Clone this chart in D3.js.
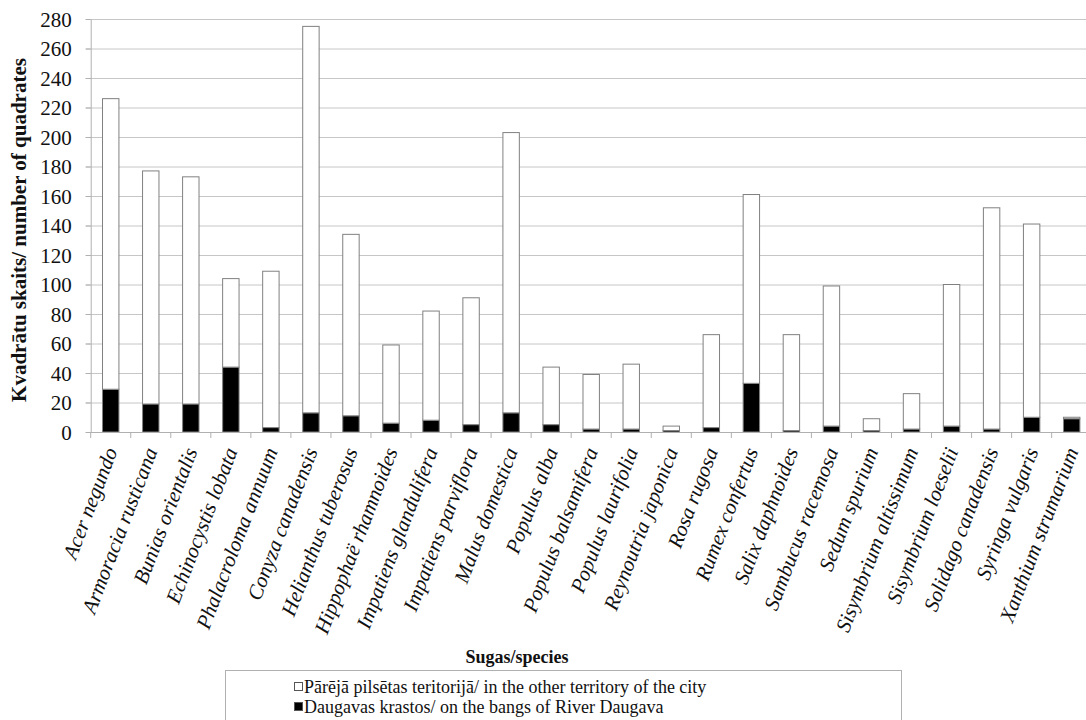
<!DOCTYPE html>
<html>
<head>
<meta charset="utf-8">
<script src="https://cdn.jsdelivr.net/npm/d3@7"></script>
<style>
  svg text { font-family: 'Liberation Serif', 'Times New Roman', serif !important; }
</style>
</head>
<body style="margin:0; background:#fff">
<svg id="chart" width="1086" height="720" style="font-family: 'Liberation Serif', serif"></svg>
<script>
const categories = [
  "Acer negundo", "Armoracia rusticana", "Bunias orientalis", "Echinocystis lobata",
  "Phalacroloma annuum", "Conyza canadensis", "Helianthus tuberosus", "Hippophaë rhamnoides",
  "Impatiens glandulifera", "Impatiens parviflora", "Malus domestica", "Populus alba",
  "Populus balsamifera", "Populus laurifolia", "Reynoutria japonica", "Rosa rugosa",
  "Rumex confertus", "Salix daphnoides", "Sambucus racemosa", "Sedum spurium",
  "Sisymbrium altissimum", "Sisymbrium loeselii", "Solidago canadensis", "Syringa vulgaris",
  "Xanthium strumarium"
];
// Daugavas krastos / on the banks of River Daugava (black, bottom)
const riverValues = [29, 19, 19, 44, 3, 13, 11, 6, 8, 5, 13, 5, 2, 2, 1, 3, 33, 1, 4, 1, 2, 4, 2, 10, 9];
// Pārējā pilsētas teritorijā / other territory of the city (white, top)
const otherValues = [197, 158, 154, 60, 106, 262, 123, 53, 74, 86, 190, 39, 37, 44, 3, 63, 128, 65, 95, 8, 24, 96, 150, 131, 1];
const yTicks = [0, 20, 40, 60, 80, 100, 120, 140, 160, 180, 200, 220, 240, 260, 280];
const seriesNames = [
  "Pārējā pilsētas teritorijā/ in the other territory of the city",
  "Daugavas krastos/ on the bangs of River Daugava"
];
const yTitle = "Kvadrātu skaits/ number of quadrates";
const xTitle = "Sugas/species";

const FONT = "'Liberation Serif', serif";
const svg = d3.select("#chart");
const x0 = 90.7, step = 40.04;
const x = d3.scaleBand().domain(categories)
  .range([x0, x0 + step * categories.length])
  .paddingInner(0.59).paddingOuter(0.295);
const y = d3.scaleLinear().domain([0, 280]).range([432, 19]);

const table = categories.map((c, i) => ({ cat: c, river: riverValues[i], other: otherValues[i] }));
const stack = d3.stack().keys(["river", "other"])(table);

// gridlines
svg.append("g").selectAll("line").data(yTicks.filter(t => t > 0)).join("line")
  .attr("x1", x0 - 5).attr("x2", x0 + step * categories.length)
  .attr("y1", d => y(d) + 0.5).attr("y2", d => y(d) + 0.5)
  .attr("stroke", "#c6c6c6").attr("stroke-width", 1);

// y axis
const yAxis = svg.append("g").attr("transform", `translate(${x0},0)`)
  .call(d3.axisLeft(y).tickValues(yTicks).tickSize(5).tickPadding(14).tickSizeOuter(0));
yAxis.attr("font-family", null).style("font-family", FONT);
yAxis.select(".domain").attr("stroke", "#b0b0b0");
yAxis.selectAll(".tick line").attr("stroke", "#b0b0b0");
yAxis.selectAll("text").attr("font-size", 21).attr("fill", "#111")
  .style("font-family", FONT).attr("dy", "0.34em");

// bars
const colors = { river: "#000", other: "#fff" };
svg.append("g").selectAll("g").data(stack).join("g")
  .attr("fill", d => colors[d.key])
  .selectAll("rect").data(d => d).join("rect")
  .attr("x", d => x(d.data.cat))
  .attr("width", x.bandwidth())
  .attr("y", d => y(d[1]))
  .attr("height", d => y(d[0]) - y(d[1]))
  .attr("stroke", "#808080").attr("stroke-width", 1);

// x axis
const xAxis = svg.append("g").attr("transform", `translate(0,${y(0)})`);
xAxis.append("line").attr("x1", x0 - 5).attr("x2", x0 + step * categories.length)
  .attr("y1", 0.5).attr("y2", 0.5).attr("stroke", "#b0b0b0");
xAxis.selectAll("line.tk").data(d3.range(categories.length + 1)).join("line").attr("class", "tk")
  .attr("x1", i => x0 + i * step).attr("x2", i => x0 + i * step)
  .attr("y1", 0).attr("y2", 6).attr("stroke", "#b0b0b0");
xAxis.selectAll("text").data(categories).join("text")
  .attr("transform", d => `translate(${x(d) + x.bandwidth() / 2 + 7},${19}) rotate(-69)`)
  .attr("text-anchor", "end")
  .style("font-family", FONT)
  .attr("font-size", 21).attr("font-style", "italic").attr("fill", "#111")
  .text(d => d);

// axis titles
svg.append("text").attr("transform", "translate(26,230) rotate(-90)")
  .attr("text-anchor", "middle").attr("font-weight", "bold").attr("font-size", 21)
  .style("font-family", FONT).attr("fill", "#111").text(yTitle);
svg.append("text").attr("x", 517).attr("y", 663)
  .attr("text-anchor", "middle").attr("font-weight", "bold").attr("font-size", 18)
  .style("font-family", FONT).attr("fill", "#111").text(xTitle);

// legend
const lg = svg.append("g");
lg.append("rect").attr("x", 225.5).attr("y", 670.5).attr("width", 676).attr("height", 70)
  .attr("fill", "none").attr("stroke", "#b0b0b0");
const legendFill = ["#fff", "#000"];
seriesNames.forEach((s, i) => {
  const by = 693 + i * 20;
  lg.append("rect").attr("x", 294.5).attr("y", by - 10.5).attr("width", 8).attr("height", 8)
    .attr("fill", legendFill[i]).attr("stroke", "#555");
  lg.append("text").attr("x", 304).attr("y", by).attr("font-size", 18)
    .style("font-family", FONT).attr("fill", "#111").text(s);
});
</script>
</body>
</html>
